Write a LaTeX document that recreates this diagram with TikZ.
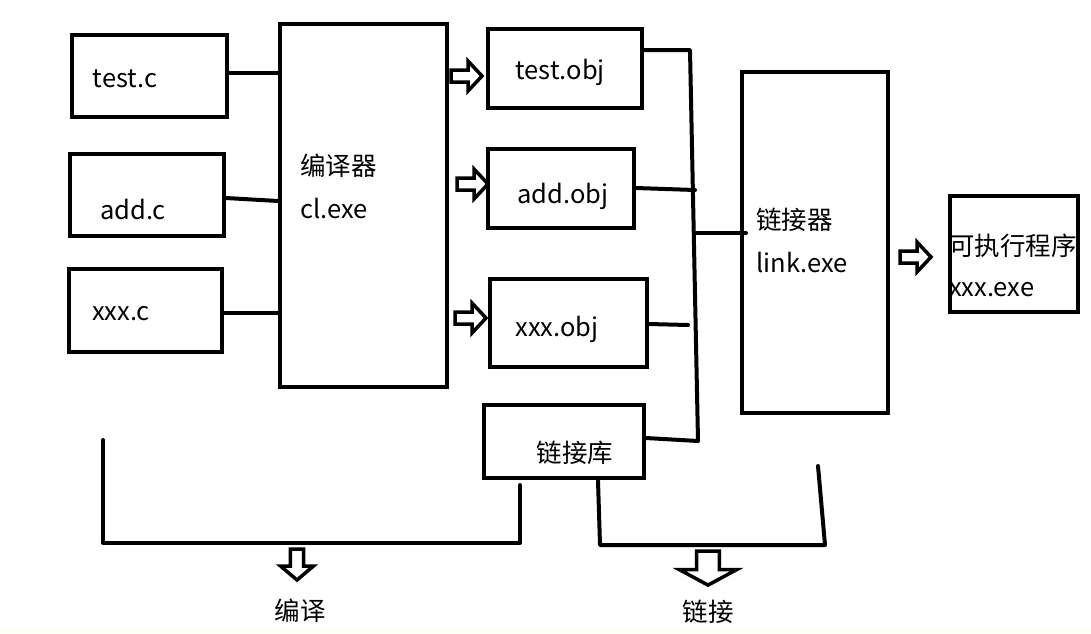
\documentclass[tikz,border=0pt]{standalone}
\usepackage{fontspec}
\setmainfont{Noto Sans CJK SC}
\begin{document}
\begin{tikzpicture}[x=1pt,y=-1pt,
  box/.style={draw,line width=4pt,rectangle,inner sep=0pt,anchor=north west},
  lbl/.style={font=\fontsize{25.5}{29}\selectfont,inner sep=0pt},
  wire/.style={line width=4pt,line cap=round,line join=round},
  hollow/.style={line width=3.5pt,line join=miter},
  rarrow/.pic={\draw[hollow] (0,-6) -- (17,-6) -- (17,-15) -- (31,0) -- (17,15) -- (17,6) -- (0,6) -- cycle;}]
\useasboundingbox (0,0) rectangle (1091,633);
\fill[white] (0,0) rectangle (1091,633);
\fill[yellow!5!white] (0,629) rectangle (1091,633);
% source boxes
\node[box,minimum width=155pt,minimum height=82pt] (tc) at (70,33) {};
\node[lbl] at (125,79) {test.c};
\node[box,minimum width=154pt,minimum height=82pt] (ac) at (68,152) {};
\node[lbl] at (133,210) {add.c};
\node[box,minimum width=153pt,minimum height=83pt] (xc) at (67,267) {};
\node[lbl] at (121,314) {xxx.c};
% compiler
\node[box,minimum width=167pt,minimum height=363pt] (cl) at (278,22) {};
\node[lbl,anchor=west] at (300,166) {编译器};
\node[lbl,anchor=west] at (300,209) {cl.exe};
% obj boxes
\node[box,minimum width=154pt,minimum height=79pt] (to) at (486,27) {};
\node[lbl] at (560,72) {test.obj};
\node[box,minimum width=146pt,minimum height=79pt] (ao) at (486,147) {};
\node[lbl] at (563,196) {add.obj};
\node[box,minimum width=157pt,minimum height=88pt] (xo) at (488,277) {};
\node[lbl] at (557,329) {xxx.obj};
\node[box,minimum width=160pt,minimum height=73pt] (lib) at (482,403) {};
\node[lbl] at (575,453) {链接库};
% linker
\node[box,minimum width=146pt,minimum height=341pt] (ln) at (740,70) {};
\node[lbl,anchor=west] at (756,220) {链接器};
\node[lbl,anchor=west] at (756,263) {link.exe};
% exe
\node[box,minimum width=128pt,minimum height=116pt] (ex) at (948,194) {};
\node[lbl,anchor=west] at (949,246) {可执行程序};
\node[lbl,anchor=west] at (949,290) {xxx.exe};
% wires sources -> compiler
\draw[wire] (tc.east |- 0,73) -- (cl.west |- 0,73);
\draw[wire] (ac.east |- 0,198) -- (cl.west |- 0,201);
\draw[wire] (xc.east |- 0,313) -- (cl.west |- 0,313);
% hollow arrows
\pic at (451,76) {rarrow};
\pic at (457,184) {rarrow};
\pic at (455,318) {rarrow};
\pic at (900,257) {rarrow};
\pic[rotate=-90,yscale=1.1] at (297,549) {rarrow};
\pic[rotate=-90,xscale=1.1,yscale=1.9] at (708,551) {rarrow};
% obj -> trunk
\coordinate (t1) at (690,50);
\coordinate (t2) at (698,441);
\coordinate (tj) at (695,233);
\draw[wire] (to.east |- 0,50) -- (t1) -- (t2) -- (lib.east |- 0,438);
\draw[wire] (ao.east |- 0,188) -- (695,190);
\draw[wire] (xo.east |- 0,324) -- (688,325);
\draw[wire] (tj) -- (ln.west |- 0,233) -- ++(6,0);
% compile bracket
\coordinate (c1) at (103,440);
\coordinate (c2) at (103,543);
\coordinate (c3) at (520,543);
\draw[wire] (c1) -- (c2) -- (c3) -- (520,485);
% link bracket
\coordinate (l1) at (598,481);
\coordinate (l2) at (600,545);
\coordinate (l3) at (825,545);
\draw[wire] (l1) -- (l2) -- (l3) -- (818,466);
% labels
\node[lbl] (bianyi) at (300,611) {编译};
\node[lbl] (lianjie) at (708,612) {链接};
\end{tikzpicture}
\end{document}
